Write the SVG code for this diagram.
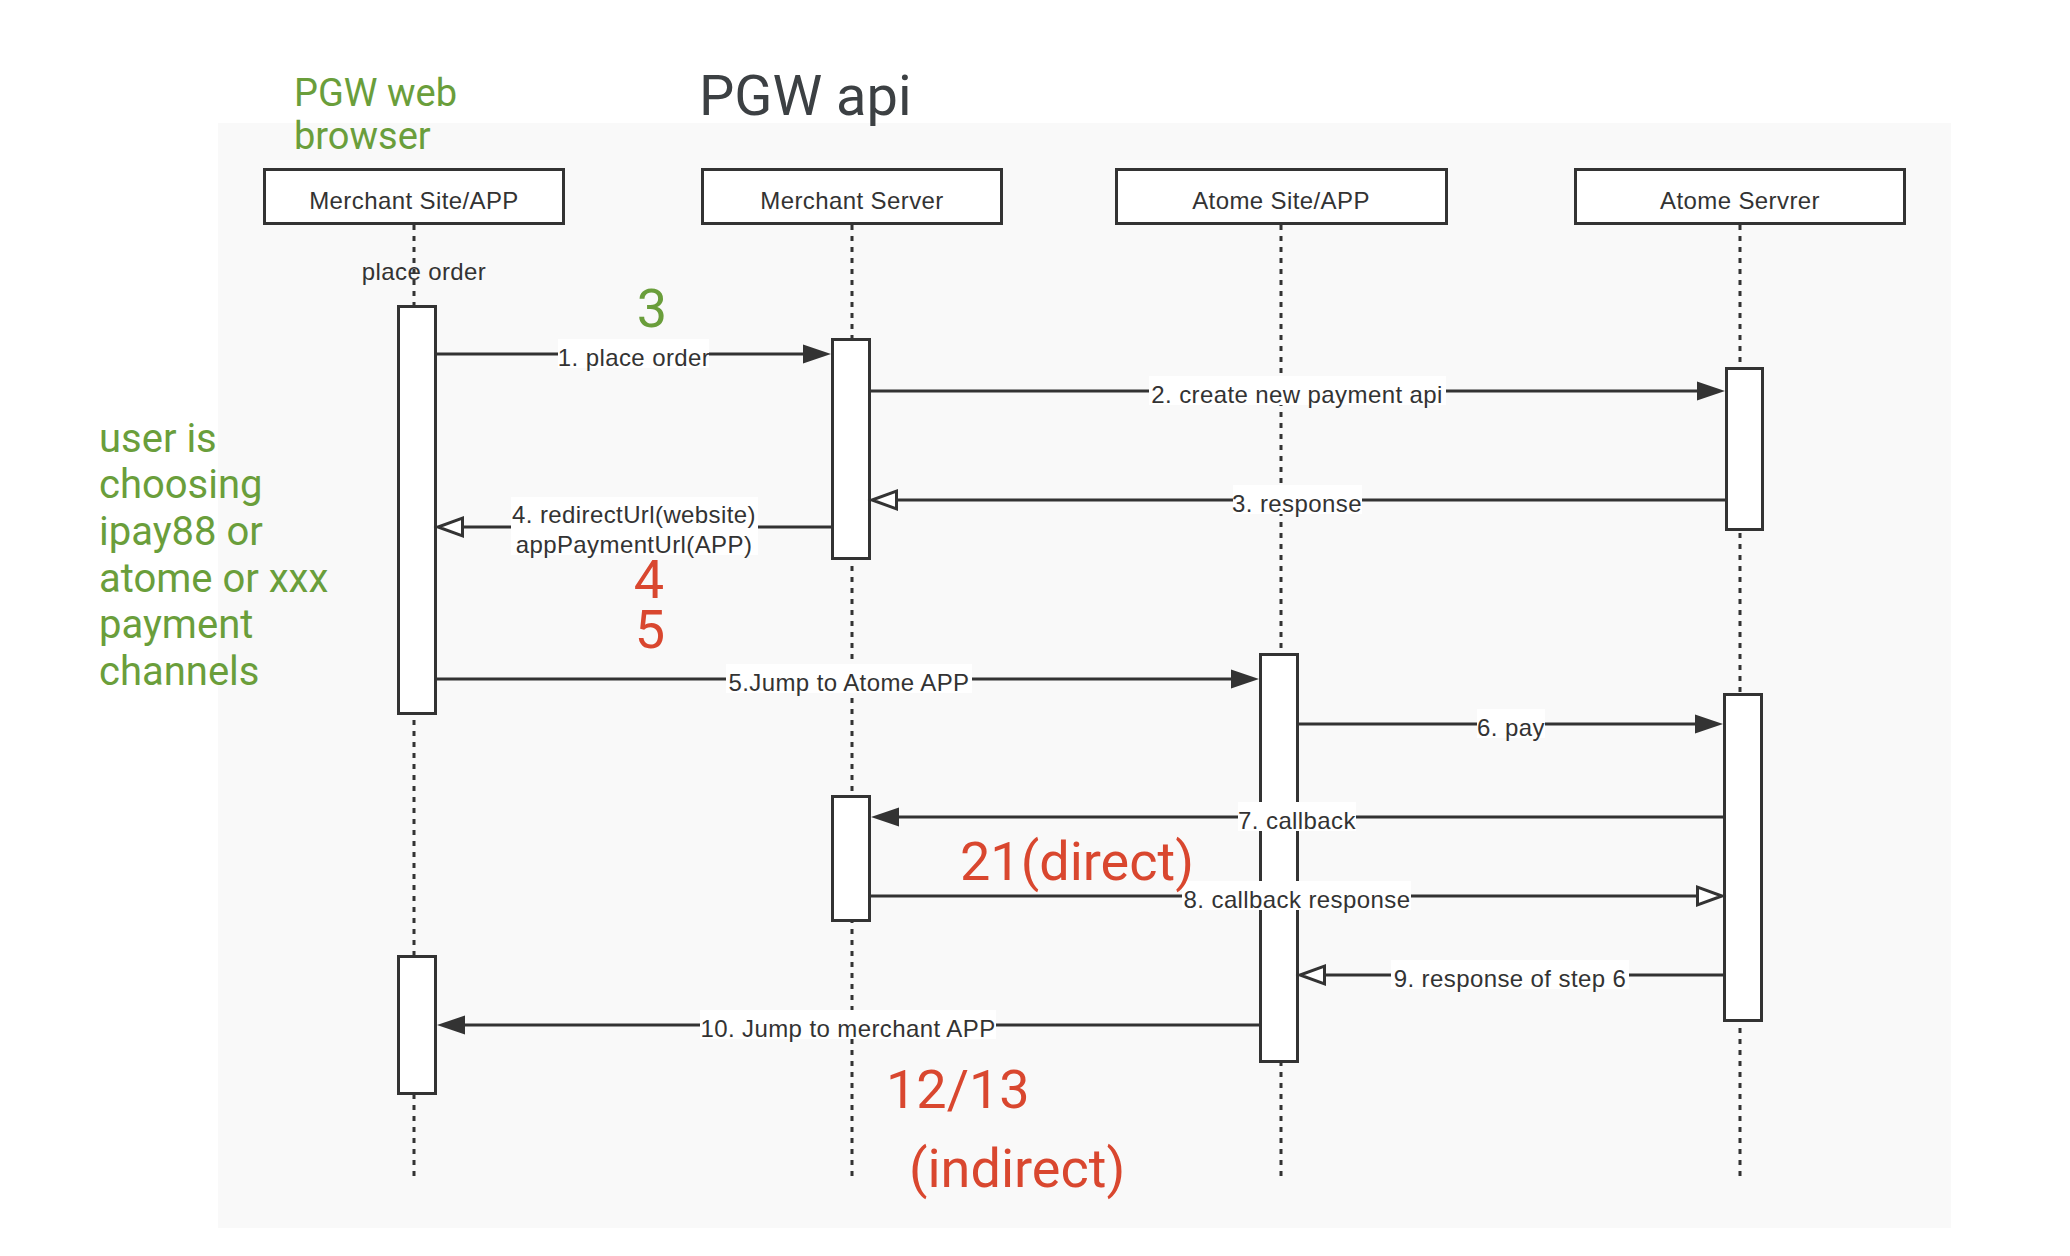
<svg xmlns="http://www.w3.org/2000/svg" width="2070" height="1256" viewBox="0 0 2070 1256">
<defs>
<style>
.bg{fill:#f9f9f9}
.box{fill:#fff;stroke:#333;stroke-width:3}
.bar{fill:#fff;stroke:#333;stroke-width:3}
.life{stroke:#333;stroke-width:3;stroke-dasharray:5 6;fill:none}
.msg{stroke:#333;stroke-width:3;fill:none}
.fa{marker-end:url(#arrowFill)}
.oa{marker-end:url(#arrowOpen)}
.lbl{font-family:"Liberation Sans",Arial,Helvetica,sans-serif;font-size:24px;fill:#333;letter-spacing:0.4px;text-anchor:middle}
.lblbg{fill:#fff}
.note{font-family:Roboto,"Noto Sans",Arial,sans-serif}
.green{fill:#6a9e3b}
.red{fill:#d9472f}
.big{font-size:54px}
</style>
<marker id="arrowFill" markerUnits="userSpaceOnUse" markerWidth="30" markerHeight="22" refX="0" refY="10" orient="auto" overflow="visible">
<path d="M0,0.5 L28,10 L0,19.5 z" fill="#333"/>
</marker>
<marker id="arrowOpen" markerUnits="userSpaceOnUse" markerWidth="30" markerHeight="22" refX="0" refY="10" orient="auto" overflow="visible">
<path d="M1.5,1.2 L26,10 L1.5,18.8 z" fill="#fff" stroke="#333" stroke-width="3" stroke-linejoin="miter"/>
</marker>
</defs>

<rect x="0" y="0" width="2070" height="1256" fill="#fff"/>
<rect class="bg" x="218" y="123" width="1733" height="1105"/>

<g id="merchant-site">
<text class="lbl" x="424" y="280">place order</text>
<line class="life" x1="414" y1="225" x2="414" y2="1181"/>
<rect class="box" x="264.5" y="169.5" width="299" height="54"/>
<text class="lbl" x="414" y="209">Merchant Site/APP</text>
<rect class="bar" x="398.5" y="306.5" width="37" height="407"/>
<rect class="bar" x="398.5" y="956.5" width="37" height="137"/>
</g>

<g id="merchant-server">
<line class="life" x1="852" y1="225" x2="852" y2="1181"/>
<rect class="box" x="702.5" y="169.5" width="299" height="54"/>
<text class="lbl" x="852" y="209">Merchant Server</text>
<rect class="bar" x="832.5" y="339.5" width="37" height="219"/>
<rect class="bar" x="832.5" y="796.5" width="37" height="124"/>
</g>

<g id="atome-site">
<line class="life" x1="1281" y1="225" x2="1281" y2="1181"/>
<rect class="box" x="1116.5" y="169.5" width="330" height="54"/>
<text class="lbl" x="1281" y="209">Atome Site/APP</text>
<rect class="bar" x="1260.5" y="654.5" width="37" height="407"/>
</g>

<g id="atome-server">
<line class="life" x1="1740" y1="225" x2="1740" y2="1181"/>
<rect class="box" x="1575.5" y="169.5" width="329" height="54"/>
<text class="lbl" x="1740" y="209">Atome Servrer</text>
<rect class="bar" x="1726.5" y="368.5" width="36" height="161"/>
<rect class="bar" x="1724.5" y="694.5" width="37" height="326"/>
</g>

<g id="connectors">
<path class="msg fa" d="M437,354 H803"/>
<path class="msg fa" d="M871,391 H1697"/>
<path class="msg oa" d="M1725,500 H898"/>
<path class="msg oa" d="M831,527 H464"/>
<path class="msg fa" d="M437,679 H1231"/>
<path class="msg fa" d="M1299,724 H1695"/>
<path class="msg fa" d="M1723,817 H899"/>
<path class="msg oa" d="M871,896 H1696"/>
<path class="msg oa" d="M1723,975 H1326"/>
<path class="msg fa" d="M1259,1025 H465"/>

<rect class="lblbg" x="558" y="339" width="151" height="29"/>
<text class="lbl" x="634" y="366">1. place order</text>
<rect class="lblbg" x="1149" y="376" width="297" height="29"/>
<text class="lbl" x="1297" y="403">2. create new payment api</text>
<rect class="lblbg" x="1233" y="485" width="129" height="29"/>
<text class="lbl" x="1297" y="512">3. response</text>
<rect class="lblbg" x="511" y="497" width="247" height="58"/>
<text class="lbl" x="634" y="523">4. redirectUrl(website)</text>
<text class="lbl" x="634" y="553">appPaymentUrl(APP)</text>
<rect class="lblbg" x="726" y="664" width="246" height="29"/>
<text class="lbl" x="849" y="691">5.Jump to Atome APP</text>
<rect class="lblbg" x="1477" y="709" width="68" height="29"/>
<text class="lbl" x="1511" y="736">6. pay</text>
<rect class="lblbg" x="1238" y="802" width="118" height="29"/>
<text class="lbl" x="1297" y="829">7. callback</text>
<rect class="lblbg" x="1182" y="881" width="229" height="29"/>
<text class="lbl" x="1297" y="908">8. callback response</text>
<rect class="lblbg" x="1391" y="960" width="238" height="29"/>
<text class="lbl" x="1510" y="987">9. response of step 6</text>
<rect class="lblbg" x="700" y="1010" width="296" height="29"/>
<text class="lbl" x="848" y="1037">10. Jump to merchant APP</text>
</g>

<g id="annotations">
<text class="note" x="699" y="115" font-size="56" fill="#3c4043">PGW api</text>
<text class="note green" font-size="38"><tspan x="294" y="106">PGW web</tspan><tspan x="294" y="149">browser</tspan></text>
<text class="note green" font-size="40"><tspan x="99" y="452">user is</tspan><tspan x="99" y="498">choosing</tspan><tspan x="99" y="545">ipay88 or</tspan><tspan x="99" y="592">atome or xxx</tspan><tspan x="99" y="638">payment</tspan><tspan x="99" y="685">channels</tspan></text>
<text class="note green big" x="652" y="327" text-anchor="middle">3</text>
<text class="note red big" text-anchor="middle"><tspan x="649" y="598">4</tspan><tspan x="650" y="648">5</tspan></text>
<text class="note red big" x="960" y="880">21(direct)</text>
<text class="note red big"><tspan x="886" y="1108">12/13</tspan><tspan x="909" y="1187">(indirect)</tspan></text>
</g>
</svg>
